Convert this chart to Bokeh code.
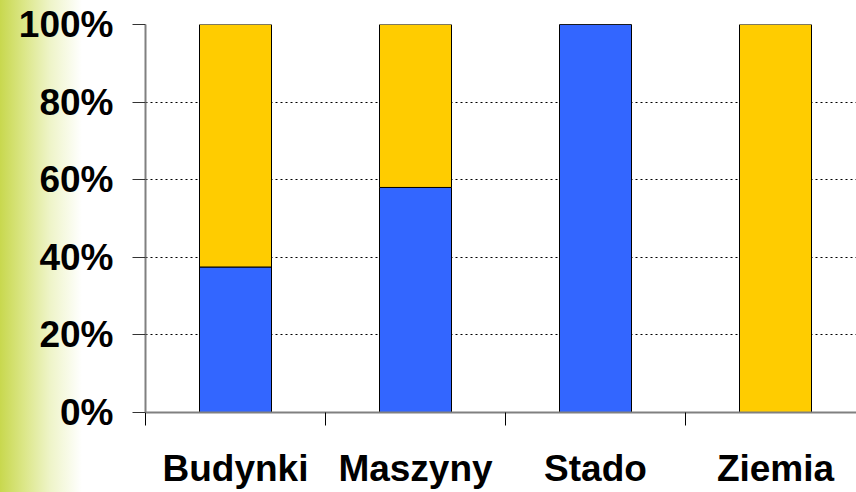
from bokeh.plotting import figure
from bokeh.models import Range1d, FixedTicker
from bokeh.embed import file_html
from bokeh.resources import INLINE

categories = ["Budynki", "Maszyny", "Stado", "Ziemia"]
blue_share = [37.5, 58.0, 100.0, 0.0]
yellow_share = [62.5, 42.0, 0.0, 100.0]
y_ticks = [0, 20, 40, 60, 80, 100]
y_tick_labels = ["0%", "20%", "40%", "60%", "80%", "100%"]

xs = list(range(1, len(categories) + 1))
data = dict(x=xs, blue=blue_share, yellow=yellow_share)

W, H = 856, 492
p = figure(width=W, height=H, output_backend="svg", toolbar_location=None,
           x_range=Range1d(0.5, 0.5 + (W - 145) / 180.0), y_range=Range1d(0, 100),
           min_border_left=145, min_border_right=0, min_border_top=24, min_border_bottom=80)
p.outline_line_color = None
p.border_fill_alpha = 0
p.background_fill_color = None
p.styles = {"background": "linear-gradient(to right, #C8D84E 0px, #DCE78A 25px, #EEF4C8 50px, #FFFFFF 82px)"}

p.vbar_stack(["blue", "yellow"], x="x", width=0.4, source=data,
             fill_color=["#3366FF", "#FFCC00"], line_color="black", line_width=1)

p.xgrid.grid_line_color = None
p.ygrid.ticker = FixedTicker(ticks=y_ticks)
p.ygrid.grid_line_color = "black"
p.ygrid.grid_line_dash = "2 3"
p.ygrid.grid_line_width = 1
p.ygrid.level = "underlay"

xa = p.xaxis[0]
xa.ticker = FixedTicker(ticks=xs, minor_ticks=[x - 0.5 for x in xs])
xa.major_label_overrides = {x: c for x, c in zip(xs, categories)}
xa.major_tick_out = 0
xa.major_tick_in = 0
xa.minor_tick_out = 13
xa.minor_tick_in = 0
xa.minor_tick_line_color = "black"
xa.axis_line_color = "#808080"
xa.axis_line_width = 2
xa.major_label_standoff = 22
xa.major_label_text_font = "Liberation Sans"
xa.major_label_text_font_style = "bold"
xa.major_label_text_font_size = "37px"
xa.major_label_text_color = "black"

ya = p.yaxis[0]
ya.ticker = FixedTicker(ticks=y_ticks)
ya.major_label_overrides = {t: l for t, l in zip(y_ticks, y_tick_labels)}
ya.major_tick_out = 13
ya.major_tick_in = 0
ya.minor_tick_out = 0
ya.minor_tick_in = 0
ya.major_tick_line_color = "#333333"
ya.axis_line_color = "#808080"
ya.axis_line_width = 2
ya.major_label_standoff = 19
ya.major_label_text_font = "Liberation Sans"
ya.major_label_text_font_style = "bold"
ya.major_label_text_font_size = "37px"
ya.major_label_text_color = "black"

open("out.html", "w").write(file_html(p, INLINE))
